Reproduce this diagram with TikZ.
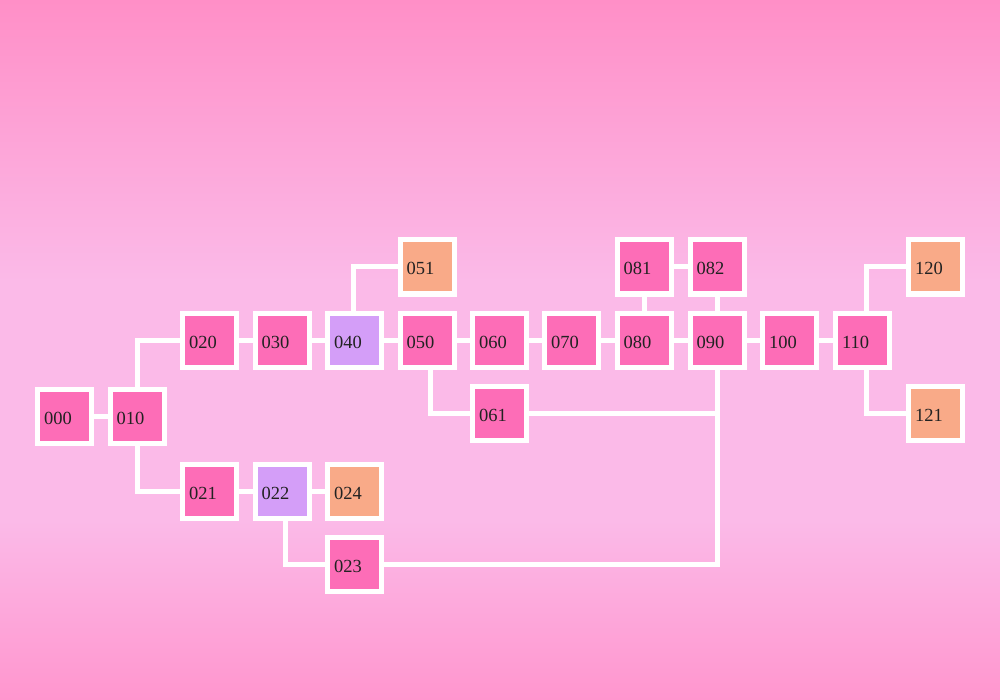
\documentclass[tikz,border=0pt]{standalone}
\usepackage{fontspec}
\setmainfont{Liberation Serif}
\usetikzlibrary{calc}
\definecolor{bgtop}{HTML}{FF8FC7}
\definecolor{bgmid}{HTML}{FBBAE8}
\definecolor{bgbot}{HTML}{FF96CE}
\definecolor{pinkbox}{HTML}{FD6DB7}
\definecolor{lavbox}{HTML}{D49EF8}
\definecolor{salbox}{HTML}{F9AA88}
\definecolor{txtcol}{HTML}{222222}
\pgfdeclarelayer{backdrop}
\pgfdeclarelayer{background}
\pgfsetlayers{backdrop,background,main}
\tikzset{
  box/.style={draw=white, line width=5pt, minimum width=54pt, minimum height=54pt,
    inner sep=0pt, text width=41pt, align=left, text=txtcol,
    text height=16pt, text depth=0pt,
    font=\fontsize{18.5}{20}\selectfont},
  pinkn/.style={box, fill=pinkbox},
  lavn/.style={box, fill=lavbox},
  saln/.style={box, fill=salbox},
  conn/.style={draw=white, line width=5pt}
}
\begin{document}
\begin{tikzpicture}[x=1pt,y=-1pt]
\useasboundingbox (0,0) rectangle (1000,700);
\begin{pgfonlayer}{backdrop}
\shade[top color=bgtop, bottom color=bgmid] (0,0) rectangle (1000,282);
\fill[bgmid] (0,280) rectangle (1000,522);
\shade[top color=bgmid, bottom color=bgbot] (0,520) rectangle (1000,700);
\end{pgfonlayer}

\node[pinkn] (n000) at (64.5,416) {000};
\node[pinkn] (n010) at (137,416) {010};
\node[pinkn] (n020) at (209.5,340) {020};
\node[pinkn] (n030) at (282,340) {030};
\node[lavn]  (n040) at (354.5,340) {040};
\node[pinkn] (n050) at (427,340) {050};
\node[pinkn] (n060) at (499.5,340) {060};
\node[pinkn] (n070) at (571.5,340) {070};
\node[pinkn] (n080) at (644,340) {080};
\node[pinkn] (n090) at (717,340) {090};
\node[pinkn] (n100) at (789.5,340) {100};
\node[pinkn] (n110) at (862.5,340) {110};
\node[saln]  (n051) at (427,267) {051};
\node[pinkn] (n081) at (644,267) {081};
\node[pinkn] (n082) at (717,267) {082};
\node[saln]  (n120) at (935.5,267) {120};
\node[saln]  (n121) at (935.5,413.5) {121};
\node[pinkn] (n061) at (499.5,413.5) {061};
\node[pinkn] (n021) at (209.5,491) {021};
\node[lavn]  (n022) at (282,491) {022};
\node[saln]  (n024) at (354.5,491) {024};
\node[pinkn] (n023) at (354.5,564) {023};

\begin{pgfonlayer}{background}
\draw[conn] (n000) -- (n010);
\draw[conn] (n010.north) |- (n020.west);
\draw[conn] (n010.south) |- (n021.west);
\draw[conn] (n020) -- (n030);
\draw[conn] (n030) -- (n040);
\draw[conn] (n040) -- (n050);
\draw[conn] ([xshift=-1.5pt]n040.north) |- (n051.west);
\draw[conn] (n050) -- (n060);
\draw[conn] ([xshift=3.5pt]n050.south) |- (n061.west);
\draw[conn] (n060) -- (n070);
\draw[conn] (n070) -- (n080);
\draw[conn] (n080) -- (n081);
\draw[conn] (n081) -- (n082);
\draw[conn] (n080) -- (n090);
\draw[conn] (n090) -- (n082);
\draw[conn] (n090) -- (n100);
\draw[conn] (n100) -- (n110);
\draw[conn] ([xshift=3.5pt]n110.north) |- (n120.west);
\draw[conn] ([xshift=3.5pt]n110.south) |- (n121.west);
\draw[conn] (n061.east) -| (n090.south);
\draw[conn] (n023.east) -| (n090.south);
\draw[conn] (n021) -- (n022);
\draw[conn] (n022) -- (n024);
\draw[conn] ([xshift=3.5pt]n022.south) |- (n023.west);
\end{pgfonlayer}
\end{tikzpicture}
\end{document}
